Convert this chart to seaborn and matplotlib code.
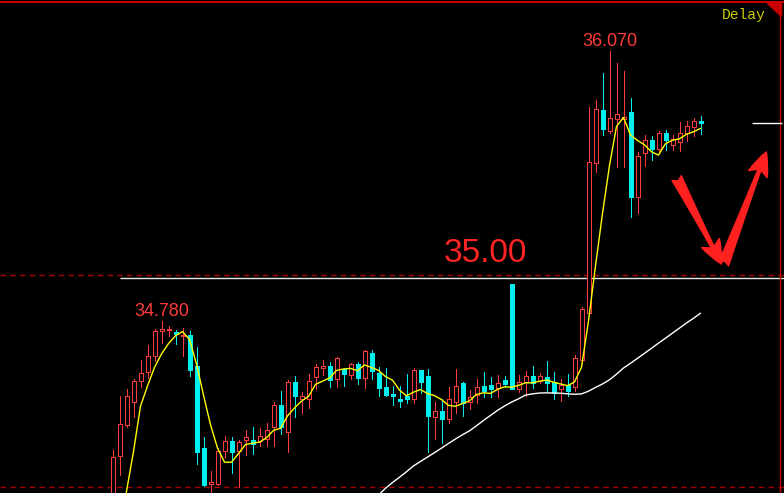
import numpy as np
import pandas as pd
import matplotlib
matplotlib.use('Agg')
import matplotlib.pyplot as plt
import seaborn as sns

# OHLC of the visible bars (price)
open_ = [33.901, 34.135, 34.283, 34.393, 34.493, 34.536, 34.613, 34.732, 34.737, 34.727,
         34.708, 34.713, 34.565, 34.173, 34.001, 34.001, 34.159, 34.207, 34.159, 34.211,
         34.211, 34.207, 34.216, 34.274, 34.379, 34.250, 34.488, 34.407, 34.407, 34.513,
         34.556, 34.565, 34.503, 34.551, 34.522, 34.575, 34.508, 34.627, 34.532, 34.465,
         34.431, 34.407, 34.422, 34.407, 34.546, 34.517, 34.321, 34.350, 34.312, 34.393,
         34.484, 34.393, 34.426, 34.469, 34.474, 34.460, 34.498, 34.957, 34.455, 34.488,
         34.517, 34.493, 34.513, 34.488, 34.455, 34.474, 34.465, 34.594, 34.818, 35.535,
         35.788, 35.688, 35.745, 35.745, 35.779, 35.372, 35.583, 35.645, 35.602, 35.678,
         35.621, 35.635, 35.678, 35.707, 35.736]
high = [34.164, 34.422, 34.455, 34.503, 34.594, 34.665, 34.742, 34.780, 34.756, 34.737,
        34.747, 34.732, 34.656, 34.226, 34.063, 34.173, 34.231, 34.226, 34.211, 34.259,
        34.274, 34.269, 34.293, 34.393, 34.445, 34.498, 34.517, 34.441, 34.527, 34.575,
        34.594, 34.584, 34.608, 34.556, 34.580, 34.584, 34.641, 34.641, 34.560, 34.556,
        34.469, 34.469, 34.527, 34.556, 34.546, 34.551, 34.393, 34.407, 34.465, 34.551,
        34.488, 34.450, 34.503, 34.536, 34.513, 34.522, 34.517, 34.957, 34.522, 34.541,
        34.565, 34.532, 34.589, 34.536, 34.503, 34.527, 34.618, 34.847, 35.802, 35.836,
        35.965, 36.070, 36.013, 35.974, 35.846, 35.588, 35.669, 35.664, 35.688, 35.693,
        35.669, 35.731, 35.736, 35.750, 35.759]
low = [33.877, 34.044, 34.274, 34.321, 34.465, 34.508, 34.589, 34.675, 34.708, 34.670,
       34.613, 34.517, 34.097, 33.991, 33.949, 33.996, 34.126, 34.054, 33.986, 34.140,
       34.145, 34.183, 34.183, 34.183, 34.240, 34.154, 34.321, 34.340, 34.364, 34.455,
       34.522, 34.465, 34.465, 34.469, 34.503, 34.479, 34.460, 34.503, 34.422, 34.422,
       34.379, 34.369, 34.388, 34.388, 34.436, 34.154, 34.216, 34.197, 34.293, 34.340,
       34.326, 34.360, 34.388, 34.417, 34.417, 34.417, 34.465, 34.455, 34.441, 34.422,
       34.460, 34.484, 34.445, 34.407, 34.398, 34.422, 34.445, 34.580, 34.813, 35.492,
       35.669, 35.678, 35.516, 35.516, 35.277, 35.296, 35.521, 35.549, 35.588, 35.597,
       35.597, 35.592, 35.640, 35.664, 35.674]
close = [34.130, 34.288, 34.422, 34.493, 34.532, 34.613, 34.732, 34.742, 34.742, 34.718,
         34.713, 34.546, 34.154, 33.996, 34.010, 34.159, 34.207, 34.154, 34.202, 34.226,
         34.192, 34.231, 34.259, 34.379, 34.274, 34.488, 34.422, 34.422, 34.493, 34.560,
         34.565, 34.498, 34.603, 34.527, 34.575, 34.508, 34.637, 34.541, 34.460, 34.426,
         34.422, 34.398, 34.407, 34.546, 34.488, 34.326, 34.350, 34.312, 34.407, 34.469,
         34.388, 34.417, 34.465, 34.445, 34.455, 34.484, 34.479, 34.455, 34.488, 34.517,
         34.484, 34.517, 34.484, 34.436, 34.474, 34.445, 34.603, 34.837, 35.540, 35.793,
         35.697, 35.750, 35.769, 35.755, 35.372, 35.568, 35.645, 35.602, 35.678, 35.645,
         35.650, 35.678, 35.712, 35.736, 35.726]
# earlier closes (below the visible window), needed to warm up the averages
prior_close = [32.491, 32.778, 32.874, 32.826, 32.874, 33.208, 33.065, 33.089, 33.017, 33.065,
               33.184, 33.184, 33.280, 33.017, 32.921, 33.017, 33.041, 33.232, 33.328, 33.543,
               33.447]

level = 35.00
level_line = 34.985
low_mark = 33.987

RED = '#ff3b3b'
CYAN = '#00f0f0'
DASH_RED = '#a80000'

o = np.array(open_)
h = np.array(high)
l = np.array(low)
c = np.array(close)
x = np.arange(len(c))
up = c >= o

full = pd.Series(prior_close + close)
ma5 = full.rolling(5).mean().to_numpy()[-len(c):]
ma60 = full.rolling(60).mean().to_numpy()[-len(c):]

sns.set_style('dark', {'axes.facecolor': 'black', 'figure.facecolor': 'black'})
plt.rcParams['font.family'] = ['Liberation Sans', 'DejaVu Sans']

fig = plt.figure(figsize=(7.84, 4.93), dpi=100)
ax = fig.add_axes([0, 0, 1, 1])
ax.set_facecolor('black')

# level lines
ax.axhline(level, color=DASH_RED, lw=1, ls=(0, (4, 3)), zorder=1)
ax.axhline(low_mark, color=DASH_RED, lw=1, ls=(0, (4, 3)), zorder=1)
ax.hlines(level_line, 1, 96, color='#e8e8e8', lw=1, zorder=1)

# wicks
ax.vlines(x[up], l[up], h[up], color=RED, lw=0.72, antialiased=False, zorder=2)
ax.vlines(x[~up], l[~up], h[~up], color=CYAN, lw=0.72, antialiased=False, zorder=2)

# bodies (4 px between edge centres, 1 px edge -> 5 px wide)
bw = 4 / 7
bot = np.minimum(o, c)
hgt = np.abs(c - o)
ax.bar(x[up], hgt[up], bottom=bot[up], width=bw, facecolor='black',
       edgecolor=RED, linewidth=0.72, antialiased=False, zorder=3)
ax.bar(x[~up], hgt[~up], bottom=bot[~up], width=bw, facecolor=CYAN,
       edgecolor=CYAN, linewidth=0.72, antialiased=False, zorder=3)

# moving averages
sns.lineplot(x=x, y=ma5, color='#ffff00', lw=1, ax=ax, zorder=4)
sns.lineplot(x=x, y=ma60, color='white', lw=1, ax=ax, zorder=4)

# last price marker
ax.hlines(c[-1], 91.4, 95.6, color='white', lw=1, zorder=4)

# high labels
i1 = int(np.argmax(h[:40]))
i2 = int(np.argmax(h))
for i in (i1, i2):
    ax.annotate(f'{h[i]:.3f}', xy=(i, h[i]), xytext=(0, 1), textcoords='offset points',
                ha='center', va='bottom', color=RED, fontsize=13)

ax.annotate(f'{level:.2f}', xy=(53.3, level), xytext=(0, 9), textcoords='offset points',
            ha='center', va='baseline', color='#ff2424', fontsize=24)

# hand-drawn arrows
arrow = dict(arrowstyle='fancy,head_length=0.9,head_width=0.75,tail_width=0.4',
             color='#ff2020', mutation_scale=19, shrinkA=0, shrinkB=0)
ax.annotate('', xy=(87.0, 35.052), xytext=(80.6, 35.463), arrowprops=arrow, zorder=5)
ax.annotate('', xy=(93.4, 35.588), xytext=(87.3, 35.052), arrowprops=arrow, zorder=5)

# frame
ax.plot([0, 1], [0.995, 0.995], transform=ax.transAxes, color='#c80000', lw=1.5, clip_on=False)
ax.plot([0.9955, 0.9955], [0, 0.995], transform=ax.transAxes, color='#c80000', lw=1, clip_on=False)
ax.fill([0.978, 0.996, 0.996], [0.994, 0.994, 0.968], transform=ax.transAxes,
        color='#c80000', zorder=6)
ax.text(0.949, 0.970, 'Delay', transform=ax.transAxes, ha='center', va='center',
        color='#cccc00', fontsize=10.5, family=['Liberation Mono', 'DejaVu Sans Mono'])

# half-pixel shift so bar centres fall on pixel centres
half = 0.5 / 7
ax.set_xlim(-16 - half, 96 - half)
ax.set_ylim(33.958, 36.314)
ax.set_xticks([])
ax.set_yticks([])
for s in ax.spines.values():
    s.set_visible(False)
if ax.get_legend():
    ax.get_legend().remove()

fig.savefig('out.png', dpi=100, facecolor='black')
